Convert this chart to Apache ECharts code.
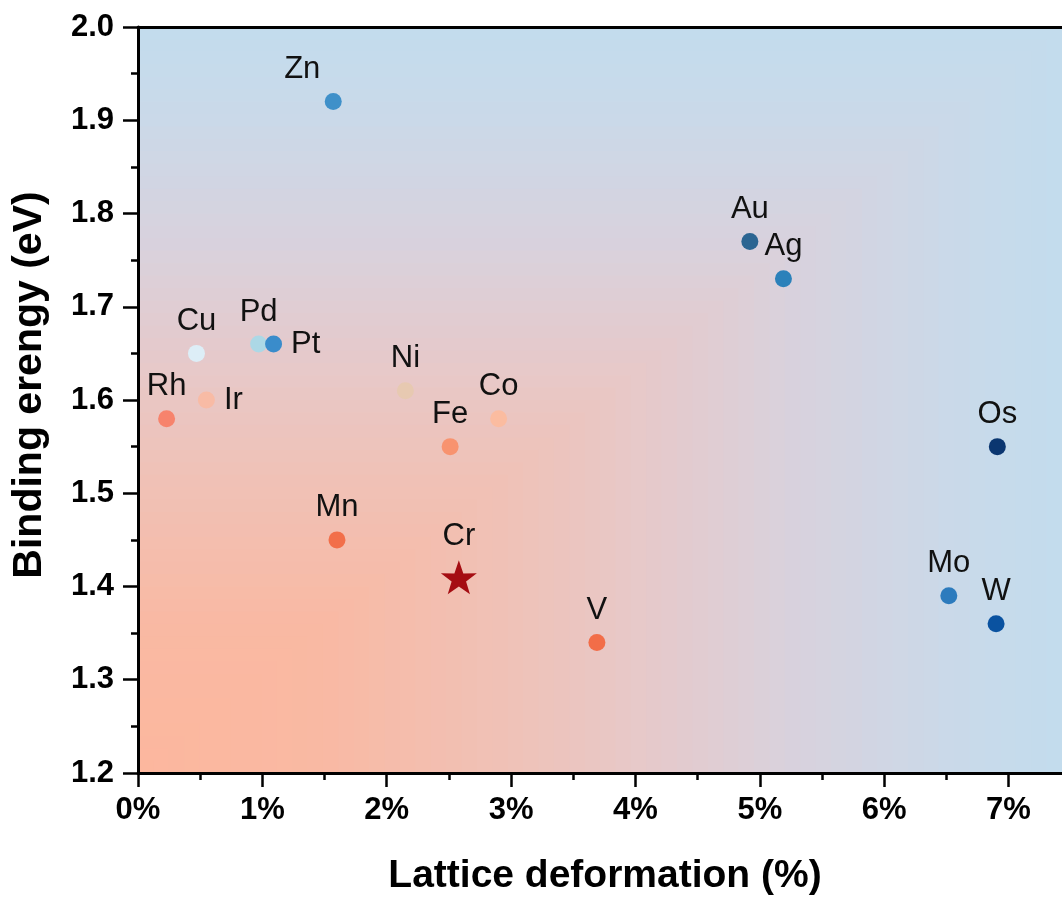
<!DOCTYPE html>
<html><head><meta charset="utf-8">
<script src="https://cdn.jsdelivr.net/npm/echarts@6/dist/echarts.min.js"></script>
<style>html,body{margin:0;padding:0;background:#fff;overflow:hidden}#c{width:1062px;height:901px}</style>
</head><body><div id="c"></div>
<script>
// ---- data ----
const elements = ['Zn','Au','Ag','Cu','Pd','Pt','Ni','Rh','Ir','Co','Fe','Mn','Cr','V','Os','Mo','W'];
const latticeDeformation = [1.57,4.92,5.19,0.47,0.97,1.09,2.15,0.23,0.55,2.90,2.51,1.60,2.58,3.69,6.91,6.52,6.90];
const bindingEnergy = [1.92,1.77,1.73,1.65,1.66,1.66,1.61,1.58,1.60,1.58,1.55,1.45,1.41,1.34,1.55,1.39,1.36];
const xTickValues = [0,1,2,3,4,5,6,7];
const xMinorTickValues = [0.5,1.5,2.5,3.5,4.5,5.5,6.5];
const xRange = [0, 7.43];
const yRange = [1.2, 2.0];

// ---- styles ----
const pointColors = {
  Zn:'#3f90c9', Au:'#2b6592', Ag:'#2b81ba', Cu:'#ddeef7', Pd:'#acd8e6', Pt:'#3a8ccb',
  Ni:'#e7c9b1', Rh:'#f7836c', Ir:'#f8bba5', Co:'#fbbca0', Fe:'#f8936f', Mn:'#f26f4a',
  Cr:'#a50d12', V:'#f26d48', Os:'#0b3670', Mo:'#2c7bbd', W:'#0a52a0'
};
const labelPlacement = { Pt:'right', Ir:'right' };
const labelShift = { Zn:[-31,0] };
const starPath = 'path://M50,0 L61.8,35.3 L97.6,34.5 L69.1,56.7 L79.4,90.5 L50,70 L20.6,90.5 L30.9,56.7 L2.4,34.5 L38.2,35.3 Z';
const FONT = '"Liberation Sans", Arial, sans-serif';

const chart = echarts.init(document.getElementById('c'), null, {renderer:'canvas'});

const data = elements.map((n, i) => ({
  name: n,
  value: [latticeDeformation[i], bindingEnergy[i]],
  symbol: n === 'Cr' ? starPath : 'circle',
  symbolSize: n === 'Cr' ? [36, 34] : 17,
  itemStyle: { color: pointColors[n] },
  label: {
    position: labelPlacement[n] || 'top',
    distance: labelPlacement[n] ? 9 : 8,
    offset: labelShift[n] || [0, 0]
  }
}));

const axisLabelStyle = { fontFamily: FONT, fontWeight: 'bold', fontSize: 31, color: '#000' };

chart.setOption({
  animation: false,
  backgroundColor: '#fff',
  grid: { left: 138, top: 27, right: 0, bottom: 122, containLabel: false },
  xAxis: [
    {
      type: 'value', min: xRange[0], max: xRange[1], position: 'bottom',
      axisLine: { show: true, onZero: false, lineStyle: { color: '#000', width: 3 } },
      axisTick: { show: true, customValues: xTickValues, length: 14, lineStyle: { color: '#000', width: 2.5 } },
      axisLabel: { show: true, customValues: xTickValues, formatter: '{value}%', margin: 22, ...axisLabelStyle },
      splitLine: { show: false },
      name: 'Lattice deformation (%)', nameLocation: 'middle', nameGap: 84,
      nameTextStyle: { fontFamily: FONT, fontWeight: 'bold', fontSize: 39, color: '#000', padding: [0, 0, 0, 10] }
    },
    {
      type: 'value', min: xRange[0], max: xRange[1], position: 'bottom',
      axisLine: { show: false, onZero: false },
      axisTick: { show: true, customValues: xMinorTickValues, length: 7, lineStyle: { color: '#000', width: 2.5 } },
      axisLabel: { show: false },
      splitLine: { show: false }
    },
    {
      type: 'value', min: xRange[0], max: xRange[1], position: 'top',
      axisLine: { show: true, onZero: false, lineStyle: { color: '#000', width: 3 } },
      axisTick: { show: false }, axisLabel: { show: false }, splitLine: { show: false }
    }
  ],
  yAxis: {
    type: 'value', min: yRange[0], max: yRange[1], interval: 0.1,
    axisLine: { show: true, onZero: false, lineStyle: { color: '#000', width: 3 } },
    axisTick: { show: true, length: 15, lineStyle: { color: '#000', width: 2.5 } },
    minorTick: { show: true, splitNumber: 2, length: 7, lineStyle: { color: '#000', width: 2.5 } },
    axisLabel: { margin: 24, formatter: v => v.toFixed(1), ...axisLabelStyle },
    splitLine: { show: false },
    name: 'Binding erengy (eV)', nameLocation: 'middle', nameGap: 88,
    nameTextStyle: { fontFamily: FONT, fontWeight: 'bold', fontSize: 41, color: '#000', padding: [0, 0, 0, 30] }
  },
  series: [{
    type: 'scatter',
    xAxisIndex: 0,
    data: data,
    z: 5,
    label: { show: true, formatter: '{b}', fontFamily: FONT, fontSize: 31, color: '#111' },
    itemStyle: { opacity: 1 }
  }]
});

// background: nested rectangles anchored at bottom-left (salmon -> blue)
const p0 = chart.convertToPixel({ gridIndex: 0 }, [xRange[0], yRange[0]]);
const p1 = chart.convertToPixel({ gridIndex: 0 }, [xRange[1], yRange[1]]);
const W = p1[0] - p0[0], H = p0[1] - p1[1];
const stops = [
  [0.00, [252, 183, 158]],
  [0.20, [249, 185, 163]],
  [0.43, [238, 195, 186]],
  [0.55, [230, 201, 202]],
  [0.70, [217, 209, 220]],
  [0.88, [202, 217, 233]],
  [1.00, [194, 220, 237]]
];
function colorAt(t) {
  for (let k = 1; k < stops.length; k++) {
    if (t <= stops[k][0]) {
      const a = stops[k - 1], b = stops[k];
      const f = (t - a[0]) / (b[0] - a[0]);
      const c = a[1].map((v, j) => Math.round(v + (b[1][j] - v) * f));
      return 'rgb(' + c.join(',') + ')';
    }
  }
  return 'rgb(' + stops[stops.length - 1][1].join(',') + ')';
}
const N = 60;
const rects = [];
for (let s = N; s >= 1; s--) {
  const t = s / N;
  rects.push({
    type: 'rect', silent: true, z: -10,
    shape: { x: p0[0], y: p0[1] - H * t, width: W * t, height: H * t },
    style: { fill: colorAt(t - 0.5 / N) }
  });
}
chart.setOption({ graphic: rects });
</script></body></html>
